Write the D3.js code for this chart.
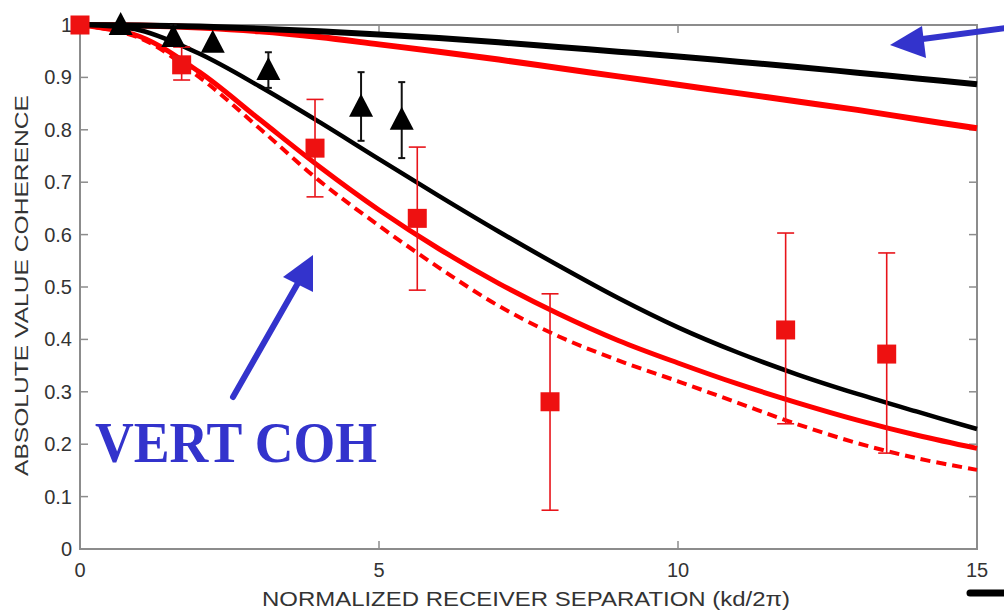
<!DOCTYPE html>
<html>
<head>
<meta charset="utf-8">
<script src="https://cdn.jsdelivr.net/npm/d3@7"></script>
<style>
  body { margin: 0; background: #fff; }
  svg { display: block; }
  .tick-label { font-family: "Liberation Sans", Arial, sans-serif; font-size: 20px; fill: #333; }
</style>
</head>
<body>
<svg id="chart" width="1004" height="613"></svg>
<script>
// model curves (sampled at curveX)
const curveX = [0, 1, 2, 3, 4, 5, 6, 7, 8, 9, 10, 11, 12, 13, 14, 15]
const blackUpper = [1, 0.999, 0.997, 0.993, 0.988, 0.982, 0.975, 0.967, 0.958, 0.949, 0.94, 0.93, 0.92, 0.909, 0.898, 0.887]
const redUpper = [1, 0.999, 0.995, 0.988, 0.977, 0.963, 0.949, 0.934, 0.918, 0.902, 0.886, 0.87, 0.854, 0.838, 0.82, 0.803]
const blackLower = [1, 0.99, 0.945, 0.883, 0.815, 0.744, 0.674, 0.606, 0.541, 0.479, 0.423, 0.375, 0.333, 0.296, 0.262, 0.229]
const redLower = [1, 0.978, 0.91, 0.82, 0.73, 0.647, 0.573, 0.507, 0.449, 0.398, 0.355, 0.315, 0.279, 0.246, 0.217, 0.192]
const redDashed = [1, 0.975, 0.9, 0.803, 0.703, 0.617, 0.537, 0.464, 0.406, 0.36, 0.32, 0.279, 0.238, 0.202, 0.173, 0.151]

// measured points
const triX = [0.68, 1.56, 2.22, 3.15, 4.7, 5.38]
const triY = [1.0, 0.977, 0.966, 0.914, 0.844, 0.819]
const triLo = [1.0, 0.965, 0.955, 0.88, 0.779, 0.746]
const triHi = [1.0, 1.0, 0.975, 0.948, 0.91, 0.891]

const sqX = [0, 1.7, 3.93, 5.64, 7.86, 11.8, 13.49]
const sqY = [1.0, 0.924, 0.765, 0.631, 0.281, 0.418, 0.372]
const sqLo = [1.0, 0.895, 0.672, 0.494, 0.074, 0.239, 0.183]
const sqHi = [1.0, 0.958, 0.858, 0.767, 0.487, 0.603, 0.565]

const xTicks = [0, 5, 10, 15]
const yTicks = [0, 0.1, 0.2, 0.3, 0.4, 0.5, 0.6, 0.7, 0.8, 0.9, 1]

const svg = d3.select('#chart')
const plot = { left: 80, right: 977, top: 25, bottom: 549 }

const xScale = d3.scaleLinear().domain([0, 15]).range([plot.left, plot.right])
const yScale = d3.scaleLinear().domain([0, 1]).range([plot.bottom, plot.top])

// frame
svg.append('rect')
  .attr('x', plot.left).attr('y', plot.top)
  .attr('width', plot.right - plot.left).attr('height', plot.bottom - plot.top)
  .attr('fill', 'none').attr('stroke', '#8c8c8c').attr('stroke-width', 2)

// inward ticks on all four sides
const tickLen = 8
const gTicks = svg.append('g').attr('stroke', '#8c8c8c').attr('stroke-width', 1.5)
xTicks.forEach(t => {
  gTicks.append('line').attr('x1', xScale(t)).attr('x2', xScale(t)).attr('y1', plot.bottom).attr('y2', plot.bottom - tickLen)
  gTicks.append('line').attr('x1', xScale(t)).attr('x2', xScale(t)).attr('y1', plot.top).attr('y2', plot.top + tickLen)
})
yTicks.forEach(t => {
  gTicks.append('line').attr('x1', plot.left).attr('x2', plot.left + tickLen).attr('y1', yScale(t)).attr('y2', yScale(t))
  gTicks.append('line').attr('x1', plot.right).attr('x2', plot.right - tickLen).attr('y1', yScale(t)).attr('y2', yScale(t))
})

// tick labels
svg.selectAll('.xlab').data(xTicks).enter().append('text')
  .attr('class', 'tick-label')
  .attr('x', d => xScale(d)).attr('y', 577)
  .attr('text-anchor', 'middle')
  .text(d => d)

svg.selectAll('.ylab').data(yTicks).enter().append('text')
  .attr('class', 'tick-label')
  .attr('x', plot.left - 8).attr('y', d => yScale(d) + 7)
  .attr('text-anchor', 'end')
  .text(d => d === 0 ? '0' : d === 1 ? '1' : d3.format('.1f')(d))

// axis titles
svg.append('text')
  .attr('class', 'tick-label')
  .attr('x', 262).attr('y', 606)
  .attr('textLength', 528).attr('lengthAdjust', 'spacingAndGlyphs')
  .text('NORMALIZED RECEIVER SEPARATION (kd/2\u03c0)')

svg.append('text')
  .attr('class', 'tick-label')
  .style('font-size', '19px')
  .attr('transform', 'translate(28, 476) rotate(-90)')
  .attr('textLength', 381).attr('lengthAdjust', 'spacingAndGlyphs')
  .text('ABSOLUTE VALUE COHERENCE')

// curves
const line = (ys) => d3.line()
  .x((d, i) => xScale(curveX[i]))
  .y(d => yScale(d))
  .curve(d3.curveCatmullRom.alpha(0.5))(ys)

const curves = [
  { ys: redUpper, color: '#ff0000', w: 6, dash: null },
  { ys: blackUpper, color: '#000', w: 6, dash: null },
  { ys: redDashed, color: '#ff0000', w: 4, dash: '10,6' },
  { ys: redLower, color: '#ff0000', w: 5, dash: null },
  { ys: blackLower, color: '#000', w: 4.5, dash: null }
]
curves.forEach(c => {
  svg.append('path')
    .attr('d', line(c.ys))
    .attr('fill', 'none')
    .attr('stroke', c.color)
    .attr('stroke-width', c.w)
    .attr('stroke-dasharray', c.dash)
})

// error bars
const errBars = (xs, lo, hi, color, cap, w) => {
  const g = svg.append('g').attr('stroke', color).attr('stroke-width', w)
  xs.forEach((x, i) => {
    if (lo[i] === hi[i]) return
    const px = xScale(x)
    g.append('line').attr('x1', px).attr('x2', px).attr('y1', yScale(lo[i])).attr('y2', yScale(hi[i]))
    g.append('line').attr('x1', px - cap).attr('x2', px + cap).attr('y1', yScale(lo[i])).attr('y2', yScale(lo[i]))
    g.append('line').attr('x1', px - cap).attr('x2', px + cap).attr('y1', yScale(hi[i])).attr('y2', yScale(hi[i]))
  })
}
errBars(sqX, sqLo, sqHi, '#e8141a', 8.5, 1.6)
errBars(triX, triLo, triHi, '#111', 3.5, 2)

// squares
const sq = 19
svg.selectAll('.sq').data(sqX).enter().append('rect')
  .attr('x', d => xScale(d) - sq / 2)
  .attr('y', (d, i) => yScale(sqY[i]) - sq / 2)
  .attr('width', sq).attr('height', sq)
  .attr('fill', '#ee1111')

// triangles
svg.selectAll('.tri').data(triX).enter().append('path')
  .attr('transform', (d, i) => `translate(${xScale(d)},${yScale(triY[i])})`)
  .attr('d', 'M0,-13L12,10L-12,10Z')
  .attr('fill', '#000')

// blue annotations
const blue = '#3333cc'
svg.append('line')
  .attr('x1', 233).attr('y1', 397).attr('x2', 298).attr('y2', 283)
  .attr('stroke', blue).attr('stroke-width', 6).attr('stroke-linecap', 'round')
svg.append('path').attr('d', 'M313,255L283,277L313,292Z').attr('fill', blue)

svg.append('line')
  .attr('x1', 915).attr('y1', 40).attr('x2', 1006).attr('y2', 28)
  .attr('stroke', blue).attr('stroke-width', 6)
svg.append('path').attr('d', 'M890,45L922,26L926,58Z').attr('fill', blue)

svg.append('text')
  .attr('x', 95).attr('y', 462)
  .attr('textLength', 282).attr('lengthAdjust', 'spacingAndGlyphs')
  .style('font-family', '"Liberation Serif", "Times New Roman", serif')
  .style('font-weight', 'bold')
  .style('font-size', '58px')
  .attr('fill', blue)
  .text('VERT COH')

svg.append('line')
  .attr('x1', 970).attr('y1', 593).attr('x2', 1010).attr('y2', 593)
  .attr('stroke', '#000').attr('stroke-width', 7).attr('stroke-linecap', 'round')
</script>
</body>
</html>
